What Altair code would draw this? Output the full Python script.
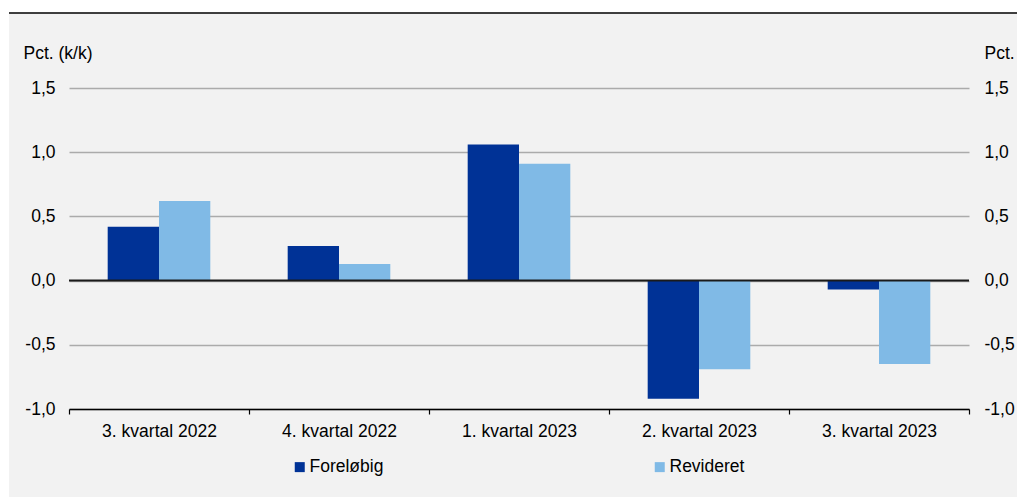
import altair as alt
import pandas as pd

quarters = ["3. kvartal 2022", "4. kvartal 2022", "1. kvartal 2023", "2. kvartal 2023", "3. kvartal 2023"]
series = ["Foreløbig", "Revideret"]
foreloebig = [0.42, 0.27, 1.06, -0.92, -0.07]
revideret = [0.62, 0.13, 0.91, -0.69, -0.65]
y_ticks = [-1.0, -0.5, 0.0, 0.5, 1.0, 1.5]
colors = ["#003296", "#80BAE6"]

rows = []
for q, f, r in zip(quarters, foreloebig, revideret):
    rows.append({"quarter": q, "series": series[0], "value": f})
    rows.append({"quarter": q, "series": series[1], "value": r})
df = pd.DataFrame(rows)

FONT = "Liberation Sans"
FS = 17.5
W, H = 900, 321
label_expr = "(datum.value < 0 ? '-' : '') + replace(format(abs(datum.value), '.1f'), '.', ',')"

yscale = alt.Scale(domain=[-1.0, 1.5], nice=False, zero=False)

x_enc = alt.X(
    "quarter:N",
    sort=quarters,
    scale=alt.Scale(paddingInner=0, paddingOuter=0),
    axis=alt.Axis(
        title=None, labelAngle=0, domainColor="#000000", domainWidth=1.5,
        tickColor="#000000", tickWidth=1.2, tickSize=5, tickBand="extent",
        labelPadding=8, labelFontSize=FS, labelColor="#000000", labelFont=FONT,
        grid=False, labelLimit=300,
    ),
)

bars = alt.Chart(df).mark_bar().encode(
    x=x_enc,
    xOffset=alt.XOffset("series:N", sort=series, scale=alt.Scale(paddingInner=0, paddingOuter=0.754)),
    y=alt.Y(
        "value:Q",
        scale=yscale,
        axis=alt.Axis(
            orient="left", values=y_ticks, labelExpr=label_expr, domain=False,
            ticks=False, tickSize=0, labelPadding=14, grid=True, gridColor="#ababab",
            gridWidth=1.3, labelFontSize=FS, labelColor="#000000", labelFont=FONT,
            title="Pct. (k/k)", titleAngle=0, titleX=-46, titleY=-30,
            titleAlign="left", titleBaseline="alphabetic", titleFontSize=FS,
            titleFontWeight="normal", titleFont=FONT, titleColor="#000000",
        ),
    ),
    color=alt.Color(
        "series:N", sort=series,
        scale=alt.Scale(domain=series, range=colors),
        legend=alt.Legend(
            title=None, orient="none", legendX=222, legendY=370,
            direction="horizontal", symbolType="square", symbolSize=100,
            symbolStrokeWidth=0, labelFontSize=FS, labelFont=FONT,
            labelColor="#000000", columnPadding=267, labelOffset=1, labelLimit=300,
        ),
    ),
)

right_axis = alt.Chart(df).mark_bar(opacity=0).encode(
    x=x_enc,
    y=alt.Y(
        "value:Q",
        scale=yscale,
        axis=alt.Axis(
            orient="right", values=y_ticks, labelExpr=label_expr, domain=False,
            ticks=False, tickSize=0, labelPadding=15, grid=False,
            labelFontSize=FS, labelColor="#000000", labelFont=FONT,
            title="Pct.", titleAngle=0, titleX=15, titleY=-30,
            titleAlign="left", titleBaseline="alphabetic", titleFontSize=FS,
            titleFontWeight="normal", titleFont=FONT, titleColor="#000000",
        ),
    ),
)

zero_line = alt.Chart(pd.DataFrame({"v": [0.0]})).mark_rule(color="#1a1a1a", strokeWidth=2).encode(
    y=alt.Y("v:Q", scale=yscale, axis=None),
)

deco = pd.DataFrame({"d": [1]})
top_white = alt.Chart(deco).mark_rect(color="white").encode(
    x=alt.value(-69), x2=alt.value(W + 48), y=alt.value(-88), y2=alt.value(-75.5)
)
left_white = alt.Chart(deco).mark_rect(color="white").encode(
    x=alt.value(-69), x2=alt.value(-60), y=alt.value(-88), y2=alt.value(H + 88)
)
top_rule = alt.Chart(deco).mark_rule(color="#000000", strokeWidth=1.6).encode(
    x=alt.value(-60), x2=alt.value(W + 48), y=alt.value(-75)
)

chart = alt.layer(top_white, left_white, top_rule, bars, right_axis, zero_line).resolve_axis(
    y="independent"
).properties(
    width=W, height=H,
    autosize=alt.AutoSizeParams(type="none"),
    padding={"left": 69, "top": 88, "right": 48, "bottom": 88},
    background="#f2f2f2",
).configure(font=FONT).configure_view(stroke="transparent", strokeWidth=0).configure_axisX(grid=False)

chart.save("out.html", embed_options={"renderer": "svg", "actions": False})
